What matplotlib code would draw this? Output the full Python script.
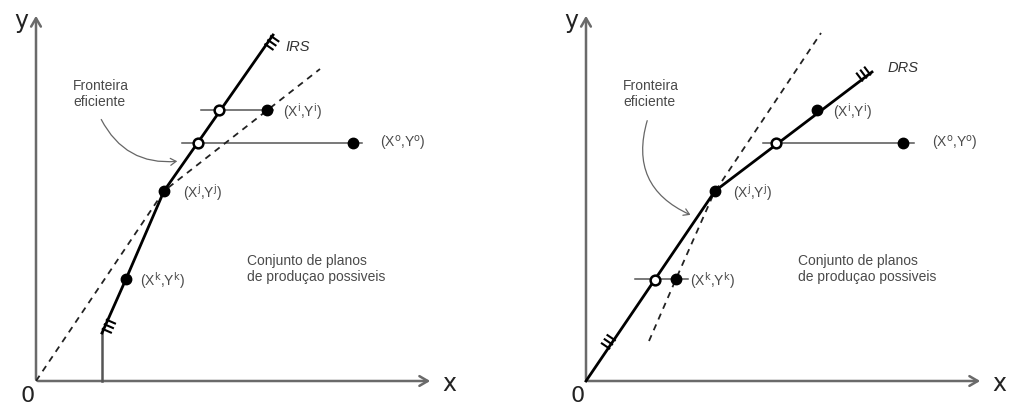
import numpy as np
import matplotlib
matplotlib.use('Agg')
import matplotlib.pyplot as plt
from matplotlib.patches import FancyArrowPatch

plt.rcParams['font.family'] = ['Liberation Sans', 'DejaVu Sans']

# ---- data (units = pixels measured from each panel's origin) ----
# left panel (IRS)
irs_wall_x = [66, 66]
irs_wall_y = [0, 48]
irs_frontier_x = [66, 90, 128, 237]
irs_frontier_y = [48, 102, 190, 346]
irs_dashed_x = [0, 128, 284]
irs_dashed_y = [0, 190, 312]
irs_filled_x = [90, 128, 231, 317]          # Xk, Xj, Xi, Xo
irs_filled_y = [102, 190, 271, 238]
irs_open_x = [183, 162]
irs_open_y = [271, 238]
irs_hlines = [(271, 165, 237), (238, 146, 326)]   # y, x0, x1
irs_labels = ['(X$^\\mathrm{k}$,Y$^\\mathrm{k}$)', '(X$^\\mathrm{j}$,Y$^\\mathrm{j}$)',
              '(X$^\\mathrm{i}$,Y$^\\mathrm{i}$)', '(X$^\\mathrm{o}$,Y$^\\mathrm{o}$)']
irs_label_x = [104, 147, 247, 344]
irs_label_y = [100, 188, 269, 238]

# right panel (DRS)
drs_frontier_x = [0, 129, 286]
drs_frontier_y = [0, 190, 309]
drs_dashed_x = [63, 90, 128, 235]
drs_dashed_y = [40, 102, 188, 348]
drs_filled_x = [90, 129, 231, 317]          # Xk, Xj, Xi, Xo
drs_filled_y = [102, 190, 271, 238]
drs_open_x = [69, 190]
drs_open_y = [101, 238]
drs_hlines = [(102, 49, 102), (238, 177, 328)]
drs_labels = irs_labels
drs_label_x = [104, 147, 247, 346]
drs_label_y = [100, 188, 269, 238]

conj_text = 'Conjunto de planos\nde produçao possiveis'
front_text = 'Fronteira\neficiente'

TXT = '#4a4a4a'
AX = '#6a6a6a'


def hatch(ax, p_from, p_to, dists, side=1, length=9):
    # small ticks across the frontier near its ends
    p0 = np.array(p_from, float); p1 = np.array(p_to, float)
    d = (p1 - p0) / np.linalg.norm(p1 - p0)
    n = np.array([d[1], -d[0]]) * side
    for s in dists:
        c = p0 + d * s
        a = c - n * 2
        b = c + n * length
        ax.plot([a[0], b[0]], [a[1], b[1]], color='black', lw=1.5, solid_capstyle='butt', zorder=4)


def axes_frame(ax, ox):
    ax.set_xlim(-ox, 505 - ox)
    ax.set_ylim(-26, 381)
    ax.axis('off')
    ax.annotate('', xy=(397, 0), xytext=(-1, 0),
                arrowprops=dict(arrowstyle='->,head_length=0.6,head_width=0.35', color=AX, lw=1.8))
    ax.annotate('', xy=(0, 368), xytext=(0, -1),
                arrowprops=dict(arrowstyle='->,head_length=0.6,head_width=0.35', color=AX, lw=1.8))
    ax.text(413, -3, 'x', fontsize=17, ha='center', va='center', color='#222222', family='DejaVu Sans')
    ax.text(-15, 360, 'y', fontsize=17, ha='center', va='center', color='#222222', family='DejaVu Sans')
    ax.text(-8, -15, '0', fontsize=16, ha='center', va='center', color='#222222', family='DejaVu Sans')


def draw_panel(ax, ox, fx, fy, dx, dy, filx, fily, opx, opy, hl, labs, lx, ly):
    axes_frame(ax, ox)
    for y, x0, x1 in hl:
        ax.plot([x0, x1], [y, y], color='#555555', lw=1.1, zorder=2)
    ax.plot(dx, dy, color='#222222', lw=1.3, ls=(0, (3.5, 3)), zorder=3)
    ax.plot(fx, fy, color='black', lw=2.0, zorder=4)
    ax.plot(filx, fily, 'o', color='black', ms=7.5, zorder=5)
    ax.plot(opx, opy, 'o', mfc='white', mec='black', mew=1.8, ms=7, zorder=5)
    for t, x, y in zip(labs, lx, ly):
        ax.text(x, y, t, fontsize=10, color=TXT, ha='left', va='center')


fig = plt.figure(figsize=(10.1, 4.07), dpi=100)
ax1 = fig.add_axes([0, 0, 0.5, 1])
ax2 = fig.add_axes([0.5, 0, 0.5, 1])

# left panel
draw_panel(ax1, 36, irs_frontier_x, irs_frontier_y, irs_dashed_x, irs_dashed_y,
           irs_filled_x, irs_filled_y, irs_open_x, irs_open_y, irs_hlines,
           irs_labels, irs_label_x, irs_label_y)
ax1.plot(irs_wall_x, irs_wall_y, color='#555555', lw=1.8, zorder=3)
hatch(ax1, (66, 48), (90, 102), [4, 9, 14], side=1)
hatch(ax1, (237, 346), (128, 190), [2, 7, 12], side=-1)
ax1.text(249, 334, 'IRS', fontsize=10.5, style='italic', color='#333333', ha='left', va='center')
ax1.text(211, 112, conj_text, fontsize=10, color=TXT, ha='left', va='center', linespacing=1.25)
ax1.text(37, 287, front_text, fontsize=10, color=TXT, ha='left', va='center', linespacing=1.25)
ax1.add_patch(FancyArrowPatch((64, 264), (144, 220), connectionstyle='arc3,rad=0.35',
                              arrowstyle='->,head_length=4,head_width=2.5', color='#666666', lw=0.9))

# right panel
draw_panel(ax2, 81, drs_frontier_x, drs_frontier_y, drs_dashed_x, drs_dashed_y,
           drs_filled_x, drs_filled_y, drs_open_x, drs_open_y, drs_hlines,
           drs_labels, drs_label_x, drs_label_y)
hatch(ax2, (0, 0), (129, 190), [40, 45, 50], side=-1)
hatch(ax2, (286, 309), (129, 190), [3, 8, 13], side=1)
ax2.text(302, 313, 'DRS', fontsize=10.5, style='italic', color='#333333', ha='left', va='center')
ax2.text(212, 112, conj_text, fontsize=10, color=TXT, ha='left', va='center', linespacing=1.25)
ax2.text(37, 287, front_text, fontsize=10, color=TXT, ha='left', va='center', linespacing=1.25)
ax2.add_patch(FancyArrowPatch((62, 263), (107, 165), connectionstyle='arc3,rad=0.45',
                              arrowstyle='->,head_length=4,head_width=2.5', color='#666666', lw=0.9))

fig.savefig('out.png', dpi=100)
